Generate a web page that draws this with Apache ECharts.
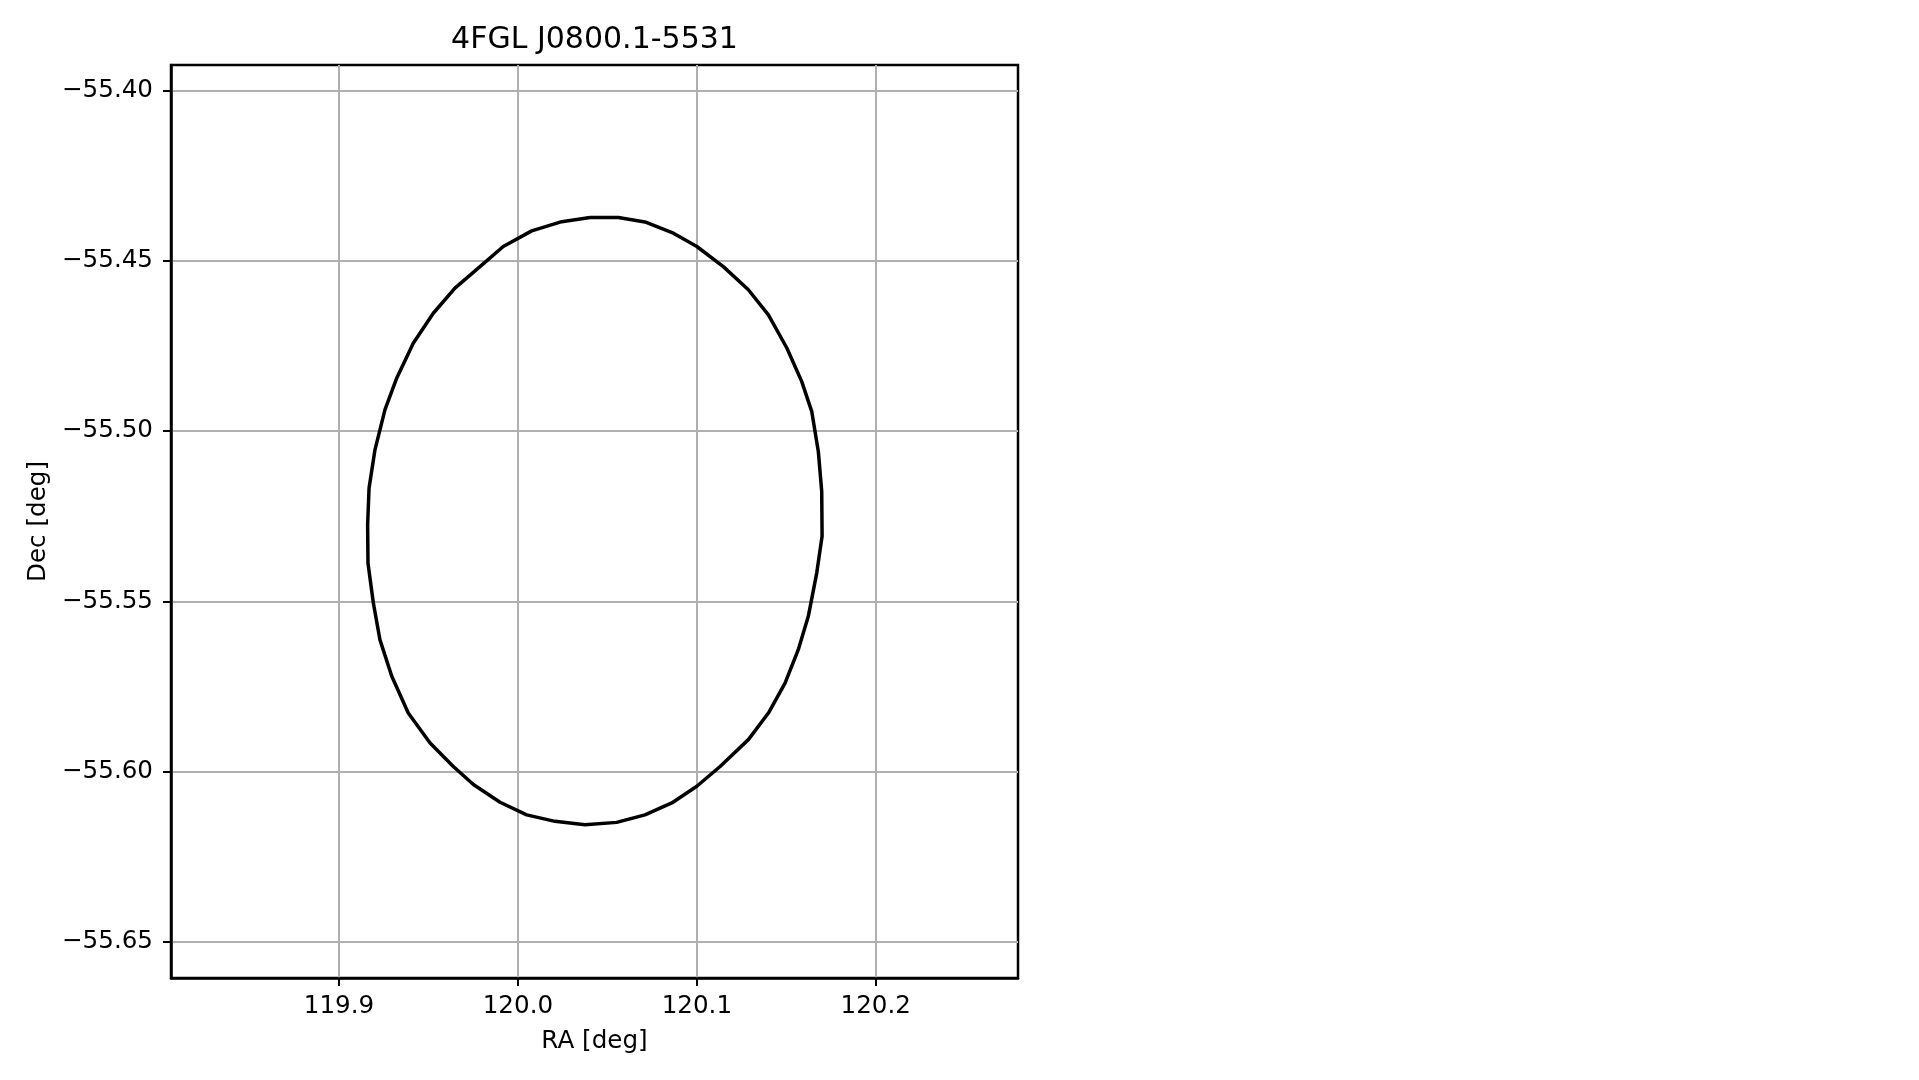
<!DOCTYPE html>
<html>
<head>
<meta charset="utf-8">
<script src="https://cdn.jsdelivr.net/npm/echarts@6/dist/echarts.min.js"></script>
<style>
html,body{margin:0;padding:0;background:#fff;}
#chart{width:1919px;height:1080px;}
</style>
</head>
<body>
<div id="chart"></div>
<script>
const titleText = '4FGL J0800.1-5531';
const xName = 'RA [deg]';
const yName = 'Dec [deg]';
const xTicks = [119.9, 120.0, 120.1, 120.2];
const yTicks = [-55.65, -55.60, -55.55, -55.50, -55.45, -55.40];
const xRange = [119.8061, 120.2795];
const yRange = [-55.6606, -55.3925];
const raVals = [
  120.0403, 120.0561, 120.0710, 120.0869, 120.1000, 120.1148, 120.1288, 120.1400, 120.1503, 120.1586,
  120.1642, 120.1679, 120.1698, 120.1700, 120.1670, 120.1623, 120.1567, 120.1493, 120.1400, 120.1288,
  120.1130, 120.1000, 120.0860, 120.0710, 120.0552, 120.0375, 120.0207, 120.0049, 119.9900, 119.9751,
  119.9639, 119.9509, 119.9387, 119.9295, 119.9229, 119.9192, 119.9162, 119.9160, 119.9168, 119.9201,
  119.9257, 119.9323, 119.9415, 119.9527, 119.9648, 119.9788, 119.9918, 120.0077, 120.0245, 120.0403
];
const decVals = [
  -55.4373, -55.4373, -55.4386, -55.4419, -55.4458, -55.4517, -55.4585, -55.4659, -55.4756, -55.4854,
  -55.4942, -55.5060, -55.5177, -55.5309, -55.5417, -55.5544, -55.5642, -55.5740, -55.5828, -55.5906,
  -55.5985, -55.6043, -55.6092, -55.6127, -55.6149, -55.6156, -55.6146, -55.6127, -55.6090, -55.6038,
  -55.5985, -55.5916, -55.5828, -55.5720, -55.5613, -55.5505, -55.5388, -55.5275, -55.5167, -55.5055,
  -55.4937, -55.4844, -55.4742, -55.4654, -55.4580, -55.4517, -55.4458, -55.4412, -55.4385, -55.4373
];

const FONT = 'DejaVu Sans';
const gridL = 171, gridT = 65, gridW = 847, gridH = 913;
const pts = raVals.map((x, i) => [x, decVals[i]]);

const chart = echarts.init(document.getElementById('chart'), null, {renderer: 'canvas'});
chart.setOption({
  backgroundColor: '#ffffff',
  animation: false,
  graphic: [{
    type: 'text',
    x: gridL + gridW / 2,
    y: 40,
    style: {
      text: titleText,
      fontFamily: FONT,
      fontSize: 30,
      fill: '#000',
      align: 'center',
      verticalAlign: 'middle'
    }
  }],
  grid: {
    left: gridL, top: gridT, width: gridW, height: gridH,
    show: true, borderColor: '#000', borderWidth: 2.5, backgroundColor: 'transparent'
  },
  xAxis: {
    type: 'value',
    min: xRange[0], max: xRange[1],
    name: xName,
    nameLocation: 'middle',
    nameGap: 51,
    nameTextStyle: {fontFamily: FONT, fontSize: 24.6, color: '#000'},
    axisLine: {show: true, onZero: false, lineStyle: {color: '#000', width: 2.5}},
    axisTick: {show: true, inside: false, length: 8, customValues: xTicks, lineStyle: {color: '#000', width: 2}},
    axisLabel: {
      customValues: xTicks, margin: 16,
      fontFamily: FONT, fontSize: 24.6, color: '#000',
      formatter: v => v.toFixed(1)
    },
    splitLine: {show: true, lineStyle: {color: '#b0b0b0', width: 2}}
  },
  yAxis: {
    type: 'value',
    min: yRange[0], max: yRange[1],
    name: yName,
    nameLocation: 'middle',
    nameGap: 120,
    nameRotate: 90,
    nameTextStyle: {fontFamily: FONT, fontSize: 24.6, color: '#000'},
    axisLine: {show: true, onZero: false, lineStyle: {color: '#000', width: 2.5}},
    axisTick: {show: true, inside: false, length: 8, customValues: yTicks, lineStyle: {color: '#000', width: 2}},
    axisLabel: {
      customValues: yTicks, margin: 18,
      fontFamily: FONT, fontSize: 24.6, color: '#000',
      formatter: v => (v < 0 ? '\u2212' : '') + Math.abs(v).toFixed(2)
    },
    splitLine: {show: true, lineStyle: {color: '#b0b0b0', width: 2}}
  },
  series: [{
    type: 'line',
    data: pts,
    showSymbol: false,
    symbol: 'none',
    smooth: false,
    lineStyle: {color: '#000', width: 3.5},
    z: 5
  }]
});
</script>
</body>
</html>
